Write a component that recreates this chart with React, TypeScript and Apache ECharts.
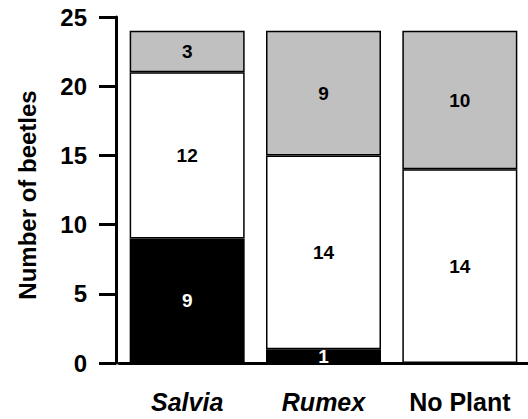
import React, { useEffect, useRef } from "react";
import * as echarts from "echarts";

const categories = ["Salvia", "Rumex", "No Plant"];
const blackValues = [9, 1, 0];
const whiteValues = [12, 14, 14];
const grayValues = [3, 9, 10];
const yTicks = [0, 5, 10, 15, 20, 25];
const yTitle = "Number of beetles";

const FONT = "Liberation Sans, Arial, sans-serif";

export default function App() {
  const ref = useRef<HTMLDivElement>(null);
  useEffect(() => {
    if (!ref.current) return;
    const chart = echarts.init(ref.current, undefined, { renderer: "svg" });
    const segLabel = (color: string) => ({
      show: true,
      position: "inside",
      color,
      fontFamily: FONT,
      fontWeight: "bold",
      fontSize: 19,
      formatter: (p: any) => (p.value ? String(p.value) : ""),
    });
    const mk = (name: string, data: number[], fill: string, lbl: string) => ({
      name,
      type: "bar",
      stack: "total",
      barWidth: 115,
      data: data.map((v) => (v === 0 ? null : v)),
      itemStyle: { color: fill, borderColor: "#000", borderWidth: 1.5 },
      label: segLabel(lbl),
    });
    chart.setOption({
      animation: false,
      grid: { left: 119, width: 415, top: 17, bottom: 56 },
      graphic: [
        {
          type: "text",
          x: 27,
          y: 195,
          rotation: Math.PI / 2,
          style: {
            text: yTitle,
            font: "bold 24px 'Liberation Sans', Arial, sans-serif",
            fill: "#000",
            align: "center",
            verticalAlign: "middle",
          },
        },
      ],
      xAxis: {
        type: "category",
        data: categories,
        axisLine: { show: true, lineStyle: { color: "#000", width: 3 } },
        axisTick: { show: false },
        axisLabel: {
          interval: 0,
          margin: 26,
          fontFamily: FONT,
          fontWeight: "bold",
          fontSize: 25,
          color: "#000",
          formatter: (v: string) => (v === "No Plant" ? "{n|" + v + "}" : "{i|" + v + "}"),
          rich: {
            i: { fontStyle: "italic", fontWeight: "bold", fontSize: 25, fontFamily: FONT, color: "#000" },
            n: { fontWeight: "bold", fontSize: 25, fontFamily: FONT, color: "#000" },
          },
        },
      },
      yAxis: {
        type: "value",
        min: yTicks[0],
        max: yTicks[yTicks.length - 1],
        interval: 5,
        offset: 3,
        axisLine: { show: true, lineStyle: { color: "#000", width: 3 } },
        axisTick: { show: true, length: 17, lineStyle: { color: "#000", width: 3 } },
        axisLabel: { margin: 29, fontFamily: FONT, fontWeight: "bold", fontSize: 24, color: "#000" },
        splitLine: { show: false },
      },
      series: [
        mk("black", blackValues, "#000000", "#ffffff"),
        mk("white", whiteValues, "#ffffff", "#000000"),
        mk("gray", grayValues, "#c0c0c0", "#000000"),
      ],
    });
    return () => chart.dispose();
  }, []);
  return <div ref={ref} style={{ width: 528, height: 419, position: "absolute", left: 0, top: 0 }} />;
}
